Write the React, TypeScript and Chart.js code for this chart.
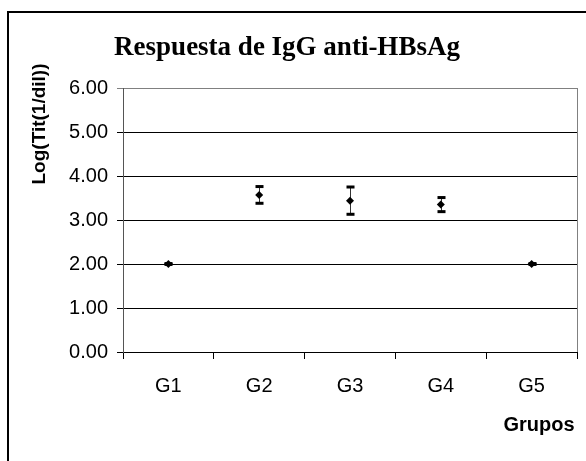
import React, { useEffect, useRef } from "react";
import { Chart, registerables } from "chart.js";

Chart.register(...registerables);

// Groups and their log titres (mean ± error)
const groups = ["G1", "G2", "G3", "G4", "G5"];
const meanTiter = [2.0, 3.57, 3.44, 3.35, 2.0];
const errorTiter = [0.01, 0.19, 0.31, 0.16, 0.01];

const chartTitle = "Respuesta de IgG anti-HBsAg";
const yTitle = "Log(Tit(1/dil))";
const xTitle = "Grupos";

const W = 586;
const H = 461;

const sansFont = "'Liberation Sans', Arial, sans-serif";
const serifFont = "'Liberation Serif', 'Times New Roman', serif";

// Outer frame, title and axis titles
const decorPlugin = {
  id: "decor",
  beforeDraw(chart: any) {
    const { ctx } = chart;
    ctx.save();
    ctx.fillStyle = "#ffffff";
    ctx.fillRect(0, 0, W, H);
    ctx.strokeStyle = "#000000";
    ctx.lineWidth = 2;
    ctx.strokeRect(8, 12, W + 20, H + 20);
    ctx.restore();
  },
  afterDraw(chart: any) {
    const { ctx, chartArea } = chart;
    ctx.save();
    // gray frame on the right side of the plot area
    ctx.strokeStyle = "#808080";
    ctx.lineWidth = 1;
    ctx.beginPath();
    ctx.moveTo(chartArea.right + 0.5, chartArea.top);
    ctx.lineTo(chartArea.right + 0.5, chartArea.bottom);
    ctx.stroke();

    ctx.fillStyle = "#000000";
    ctx.textAlign = "center";
    ctx.textBaseline = "middle";
    ctx.font = `bold 27px ${serifFont}`;
    ctx.fillText(chartTitle, 287, 48);

    ctx.font = `bold 20px ${sansFont}`;
    ctx.fillText(xTitle, 539, 425);

    ctx.translate(40, 124);
    ctx.rotate(-Math.PI / 2);
    ctx.font = `bold 19px ${sansFont}`;
    ctx.fillText(yTitle, 0, 0);
    ctx.restore();
  },
};

// Vertical error bars with thick caps, drawn under the markers
const errorBarPlugin = {
  id: "errorBars",
  beforeDatasetsDraw(chart: any) {
    const { ctx } = chart;
    const xs = chart.scales.x;
    const ys = chart.scales.y;
    ctx.save();
    meanTiter.forEach((m, i) => {
      const e = errorTiter[i];
      const x = Math.round(xs.getPixelForValue(i));
      const yt = ys.getPixelForValue(m + e);
      const yb = ys.getPixelForValue(m - e);
      ctx.strokeStyle = "#333333";
      ctx.lineWidth = 1;
      ctx.beginPath();
      ctx.moveTo(x + 0.5, yt);
      ctx.lineTo(x + 0.5, yb);
      ctx.stroke();
      ctx.fillStyle = "#000000";
      ctx.fillRect(x - 3.5, yt - 1.5, 8, 3);
      ctx.fillRect(x - 3.5, yb - 1.5, 8, 3);
    });
    ctx.restore();
  },
};

export default function App() {
  const ref = useRef<HTMLCanvasElement | null>(null);

  useEffect(() => {
    if (!ref.current) return;
    const chart = new Chart(ref.current, {
      type: "line",
      data: {
        labels: groups,
        datasets: [
          {
            data: meanTiter,
            showLine: false,
            pointStyle: "rectRot",
            pointRadius: 4,
            pointBackgroundColor: "#000000",
            pointBorderColor: "#000000",
            pointBorderWidth: 0,
          },
        ],
      },
      options: {
        responsive: false,
        animation: false,
        layout: { padding: { top: 88, right: 9, bottom: 0, left: 0 } },
        plugins: {
          legend: { display: false },
          title: { display: false },
          tooltip: { enabled: false },
        },
        scales: {
          x: {
            type: "category",
            offset: true,
            afterFit: (scale: any) => {
              scale.height = H - 352;
            },
            grid: {
              offset: true,
              drawOnChartArea: false,
              drawTicks: true,
              tickLength: 7,
              color: "#000000",
            },
            border: { color: "#000000", width: 1 },
            ticks: {
              color: "#000000",
              padding: 15,
              font: { family: sansFont, size: 20 },
              maxRotation: 0,
            },
          },
          y: {
            min: 0,
            max: 6,
            afterFit: (scale: any) => {
              scale.width = 123;
            },
            grid: {
              color: (c: any) => (c.tick && c.tick.value === 6 ? "#808080" : "#000000"),
              tickLength: 6,
              drawTicks: true,
            },
            border: { color: "#555555", width: 1 },
            ticks: {
              stepSize: 1,
              color: "#000000",
              padding: 9,
              font: { family: sansFont, size: 20 },
              callback: (v: any) => Number(v).toFixed(2),
            },
          },
        },
      },
      plugins: [decorPlugin, errorBarPlugin],
    });
    return () => chart.destroy();
  }, []);

  return (
    <div style={{ position: "absolute", left: 0, top: 0, width: W, height: H }}>
      <canvas ref={ref} width={W} height={H} style={{ width: W, height: H, display: "block" }} />
    </div>
  );
}
